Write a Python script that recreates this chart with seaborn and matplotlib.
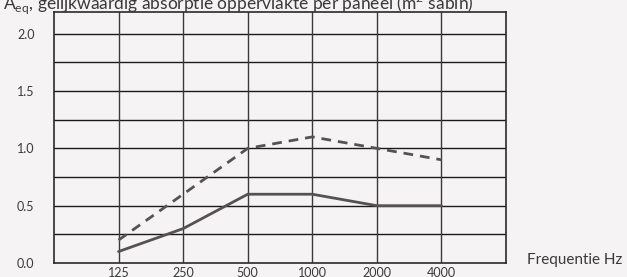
import matplotlib
matplotlib.use("Agg")
import matplotlib.pyplot as plt
import seaborn as sns
import pandas as pd

freqs = ["125", "250", "500", "1000", "2000", "4000"]
solid_vals = [0.1, 0.3, 0.6, 0.6, 0.5, 0.5]
dashed_vals = [0.2, 0.6, 1.0, 1.1, 1.0, 0.9]
y_ticks = [0.0, 0.5, 1.0, 1.5, 2.0]

sns.set_theme(style="white")
plt.rcParams['font.family'] = ['Lato', 'DejaVu Sans']

bg = "#f5f3f3"
line_col = "#575252"
txt_col = "#3a3a3a"

df = pd.DataFrame({"pos": range(len(freqs)), "solid": solid_vals, "dashed": dashed_vals})

fig = plt.figure(figsize=(6.27, 2.77), dpi=100, facecolor=bg)
ax = fig.add_axes([0.0861, 0.0505, 0.807 - 0.0861, 0.957 - 0.0505])
ax.set_facecolor(bg)

sns.lineplot(data=df, x="pos", y="dashed", ax=ax, color=line_col, lw=2.0,
             linestyle=(0, (3.5, 2.5)))
sns.lineplot(data=df, x="pos", y="solid", ax=ax, color=line_col, lw=2.0)

ax.set_xlim(-1, 6)
ax.set_ylim(0, 2.19)
ax.set_xticks(range(len(freqs)))
ax.set_xticklabels(freqs)
ax.set_yticks(y_ticks)
ax.set_yticklabels([f"{v:.1f}" for v in y_ticks])
for v in [0.25, 0.5, 0.75, 1.0, 1.25, 1.5, 1.75, 2.0]:
    ax.axhline(v, color="#1a1a1a", lw=1.0, zorder=0)
for p in range(len(freqs)):
    ax.axvline(p, color="#3a3a3a", lw=1.0, zorder=0)
ax.set_xlabel("")
ax.set_ylabel("")
for s in ax.spines.values():
    s.set_visible(True)
    s.set_color("#2a2a2a")
    s.set_linewidth(1.2)
ax.tick_params(axis="both", length=0, labelsize=9, colors=txt_col)
ax.tick_params(axis="x", pad=3)
ax.tick_params(axis="y", pad=14)

fig.text(0.005, 0.988, "A$_{\\mathregular{eq}}$, gelijkwaardig absorptie oppervlakte per paneel (m$^{\\mathregular{2}}$ sabin)",
         fontsize=12.5, color=txt_col, va="center", ha="left")
fig.text(0.84, 0.06, "Frequentie Hz", fontsize=11, color=txt_col, va="center", ha="left")

fig.savefig("out.png", dpi=100, facecolor=bg)
